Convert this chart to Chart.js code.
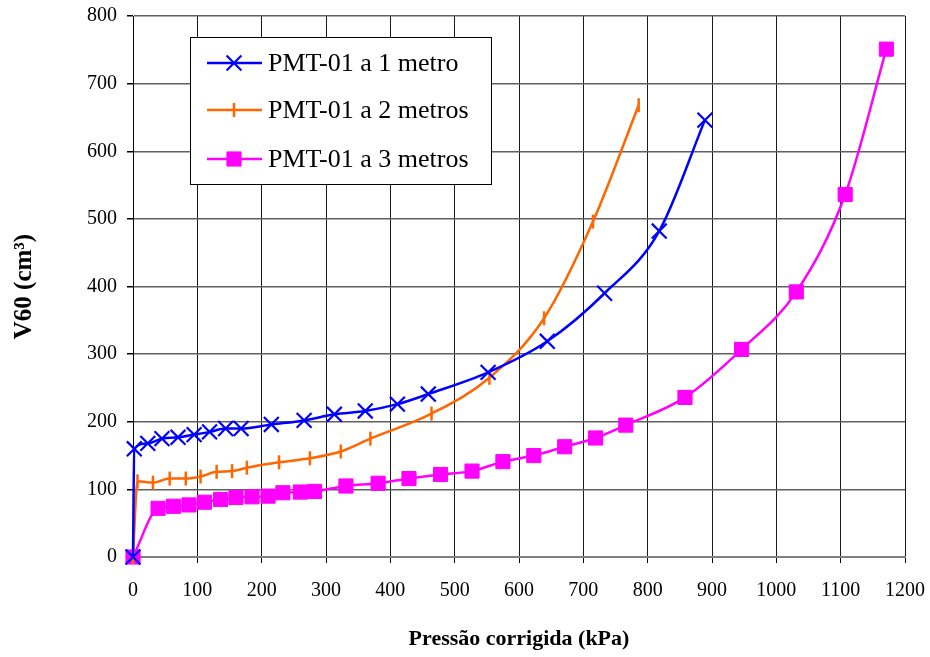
<!DOCTYPE html>
<html>
<head>
<meta charset="utf-8">
<script src="https://cdn.jsdelivr.net/npm/chart.js@4/dist/chart.umd.min.js"></script>
<style>
  html, body { margin: 0; padding: 0; background: #fff; }
  #wrap { width: 930px; height: 657px; }
</style>
</head>
<body>
<div id="wrap"><canvas id="c" width="930" height="657"></canvas></div>
<script>
// Pressiometer curves PMT-01: corrected pressure (kPa) vs. V60 (cm³)
const pressao1m = [0, 2, 23, 45, 70, 95, 119, 144, 168, 215, 266, 313, 361, 411, 459, 552, 644, 733, 818, 889];
const volume1m  = [0, 160, 168, 175, 177, 181, 185, 190, 190, 196, 202, 211, 216, 226, 241, 273, 319, 390, 482, 646];

const pressao2m = [0, 7, 31, 57, 82, 105, 130, 154, 177, 227, 275, 323, 369, 464, 554, 639, 715, 786];
const volume2m  = [0, 112, 110, 116, 116, 119, 126, 127, 132, 140, 146, 156, 175, 212, 265, 353, 496, 668];

const pressao3m = [0, 39, 63, 87, 111, 136, 160, 185, 210, 233, 260, 282, 331, 381, 429, 478, 527, 575, 623, 671, 719, 766, 858, 946, 1031, 1107, 1171];
const volume3m  = [0, 72, 75, 77, 81, 85, 88, 89, 90, 95, 96, 97, 105, 109, 116, 122, 127, 141, 150, 163, 176, 195, 236, 307, 392, 536, 751];

const seriesNames = ['PMT-01 a 1 metro', 'PMT-01 a 2 metros', 'PMT-01 a 3 metros'];
const xTitle = 'Pressão corrigida (kPa)';
const yTitle = 'V60 (cm³)';

const SERIF = '"Liberation Serif", "Times New Roman", serif';

function pairs(xs, ys) { return xs.map((x, i) => ({ x: x, y: ys[i] })); }

// Boxed legend drawn inside the plot area, upper left
const boxLegend = {
  id: 'boxLegend',
  afterDatasetsDraw(chart) {
    const ctx = chart.ctx;
    const area = chart.chartArea;
    const bx = area.left + 57, by = area.top + 21, bw = 301, bh = 147;
    ctx.save();
    ctx.fillStyle = '#fff';
    ctx.fillRect(bx, by, bw, bh);
    ctx.strokeStyle = '#000';
    ctx.lineWidth = 1;
    ctx.strokeRect(bx + 0.5, by + 0.5, bw, bh);
    const rows = [26, 73, 122];
    chart.data.datasets.forEach((ds, i) => {
      const y = by + rows[i];
      ctx.strokeStyle = ds.borderColor;
      ctx.lineWidth = 2.5;
      ctx.beginPath();
      ctx.moveTo(bx + 17, y);
      ctx.lineTo(bx + 72, y);
      ctx.stroke();
      ctx.fillStyle = ds.pointBackgroundColor;
      ctx.strokeStyle = ds.borderColor;
      ctx.lineWidth = ds.pointBorderWidth;
      Chart.helpers.drawPoint(ctx, {
        pointStyle: ds.pointStyle,
        rotation: ds.pointRotation || 0,
        radius: ds.pointRadius,
        borderWidth: ds.pointBorderWidth
      }, bx + 44, y);
      ctx.fillStyle = '#000';
      ctx.font = '26px ' + SERIF;
      ctx.textAlign = 'left';
      ctx.textBaseline = 'alphabetic';
      ctx.fillText(ds.label, bx + 78, y + 8);
    });
    ctx.restore();
  }
};

const plain = v => String(v);

new Chart(document.getElementById('c'), {
  type: 'line',
  data: {
    datasets: [
      {
        label: seriesNames[0],
        data: pairs(pressao1m, volume1m),
        borderColor: '#0000FF',
        backgroundColor: '#0000FF',
        pointBackgroundColor: '#0000FF',
        borderWidth: 2.5,
        pointStyle: 'crossRot',
        pointRadius: 10.5,
        pointBorderWidth: 2.2,
        cubicInterpolationMode: 'monotone',
        clip: false
      },
      {
        label: seriesNames[1],
        data: pairs(pressao2m, volume2m),
        borderColor: '#FF6600',
        backgroundColor: '#FF6600',
        pointBackgroundColor: '#FF6600',
        borderWidth: 2.5,
        pointStyle: 'line',
        pointRotation: 90,
        pointRadius: 7,
        pointBorderWidth: 2.5,
        cubicInterpolationMode: 'monotone',
        clip: false
      },
      {
        label: seriesNames[2],
        data: pairs(pressao3m, volume3m),
        borderColor: '#FF00FF',
        backgroundColor: '#FF00FF',
        pointBackgroundColor: '#FF00FF',
        borderWidth: 2.5,
        pointStyle: 'rect',
        pointRadius: 10,
        pointBorderWidth: 1,
        cubicInterpolationMode: 'monotone',
        clip: false
      }
    ]
  },
  options: {
    responsive: false,
    devicePixelRatio: 1,
    animation: false,
    events: [],
    layout: { padding: { top: 16, right: 25, left: 0, bottom: 0 } },
    plugins: { legend: { display: false }, tooltip: { enabled: false } },
    scales: {
      x: {
        type: 'linear',
        min: 0, max: 1200,
        afterFit(scale) { scale.height = 100; scale.paddingLeft = 0; scale.paddingRight = 0; },
        ticks: { stepSize: 100, color: '#000', padding: 16, font: { family: SERIF, size: 20 }, maxRotation: 0, callback: plain },
        grid: { color: '#1a1a1a', lineWidth: 1, tickLength: 6, tickColor: '#000' },
        border: { display: true, color: '#808080', width: 2 },
        title: { display: true, text: xTitle, color: '#000', font: { family: SERIF, size: 22, weight: 'bold' }, padding: { top: 0, bottom: 4 } }
      },
      y: {
        type: 'linear',
        min: 0, max: 800,
        afterFit(scale) { scale.width = 133; scale.paddingTop = 0; scale.paddingBottom = 0; },
        ticks: { stepSize: 100, color: '#000', padding: 10, font: { family: SERIF, size: 20 }, callback: plain },
        grid: { color: '#606060', lineWidth: 1.5, tickLength: 6, tickColor: '#000' },
        border: { display: true, color: '#000', width: 1 },
        title: { display: true, text: yTitle, color: '#000', font: { family: SERIF, size: 25, weight: 'bold' }, padding: { top: 10, bottom: 0 } }
      }
    }
  },
  plugins: [boxLegend]
});
</script>
</body>
</html>
